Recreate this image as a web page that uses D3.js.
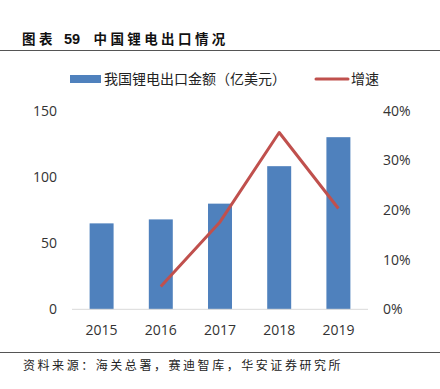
<!DOCTYPE html>
<html>
<head>
<meta charset="utf-8">
<script src="https://cdn.jsdelivr.net/npm/d3@7"></script>
<style>
    body { margin: 0; background: #fff; }
    svg text { font-family: "Open Sans", "Noto Sans CJK SC", sans-serif; }
    .cjk { font-family: "Noto Sans CJK SC", sans-serif !important; }
</style>
</head>
<body>
<div id="chart"></div>
<script>
// data
const years = ["2015", "2016", "2017", "2018", "2019"];
const exportValue = [64.9, 67.9, 79.8, 108.1, 130.0];
const growth = [null, 0.046, 0.176, 0.356, 0.203];
const leftTicks = [0, 50, 100, 150];
const rightTicks = [0, 0.1, 0.2, 0.3, 0.4];

const width = 440;
const height = 389;

const svg = d3.select("#chart")
    .append("svg")
    .attr("width", width)
    .attr("height", height);

// title + rules
const title = svg.append("text")
    .attr("class", "cjk")
    .attr("y", 43.5)
    .attr("font-size", 13.5)
    .attr("font-weight", "bold")
    .attr("fill", "#111");
title.append("tspan").attr("x", 22).attr("letter-spacing", 3.5).text("图表");
title.append("tspan").attr("x", 64).style("font-family", "'Liberation Sans', sans-serif")
    .attr("font-size", 14.5).text("59");
title.append("tspan").attr("x", 93.5).attr("letter-spacing", 3.4).text("中国锂电出口情况");

svg.append("line")
    .attr("x1", 0).attr("x2", width)
    .attr("y1", 50.5).attr("y2", 50.5)
    .attr("stroke", "#555").attr("stroke-width", 1);

svg.append("line")
    .attr("x1", 0).attr("x2", width)
    .attr("y1", 352.5).attr("y2", 352.5)
    .attr("stroke", "#555").attr("stroke-width", 1);

svg.append("text")
    .attr("class", "cjk")
    .attr("x", 23)
    .attr("y", 370)
    .attr("font-size", 12)
    .attr("letter-spacing", 2.55)
    .attr("fill", "#222")
    .text("资料来源：海关总署，赛迪智库，华安证券研究所");

// scales
const x = d3.scaleBand()
    .domain(years)
    .range([72, 368])
    .paddingInner(0.595)
    .paddingOuter(0.2975);

const y = d3.scaleLinear()
    .domain([0, 150])
    .range([309.3, 110.7]);

const y2 = d3.scaleLinear()
    .domain([0, 0.4])
    .range([309.3, 110.7]);

// bars
svg.selectAll("rect.bar")
    .data(exportValue)
    .enter()
    .append("rect")
    .attr("class", "bar")
    .attr("x", (d, i) => x(years[i]))
    .attr("y", d => y(d))
    .attr("width", x.bandwidth())
    .attr("height", d => y(0) - y(d))
    .attr("fill", "#4F81BD");

// baseline
svg.append("line")
    .attr("x1", 72).attr("x2", 368)
    .attr("y1", y(0)).attr("y2", y(0))
    .attr("stroke", "#D9D9D9").attr("stroke-width", 1);

// growth line
const line = d3.line()
    .defined(d => d.v != null)
    .x(d => x(d.year) + x.bandwidth() / 2)
    .y(d => y2(d.v));

svg.append("path")
    .datum(years.map((yr, i) => ({ year: yr, v: growth[i] })))
    .attr("d", line)
    .attr("fill", "none")
    .attr("stroke", "#C0504D")
    .attr("stroke-width", 3)
    .attr("stroke-linejoin", "round");

// axes (labels only)
const leftAxis = d3.axisLeft(y).tickValues(leftTicks).tickSize(0).tickPadding(0);
const gL = svg.append("g").attr("transform", "translate(57,0)").call(leftAxis);
gL.select(".domain").remove();

const rightAxis = d3.axisRight(y2).tickValues(rightTicks).tickSize(0).tickPadding(0)
    .tickFormat(d3.format(".0%"));
const gR = svg.append("g").attr("transform", "translate(383,0)").call(rightAxis);
gR.select(".domain").remove();

const bottomAxis = d3.axisBottom(x).tickSize(0).tickPadding(0);
const gB = svg.append("g").attr("transform", "translate(0," + (y(0) + 16) + ")").call(bottomAxis);
gB.select(".domain").remove();

svg.selectAll(".tick text")
    .attr("font-size", 14)
    .attr("fill", "#333")
    .style("font-family", "'Open Sans', sans-serif");

// legend
svg.append("rect")
    .attr("x", 70).attr("y", 75)
    .attr("width", 31).attr("height", 8)
    .attr("fill", "#4F81BD");

svg.append("text")
    .attr("class", "cjk")
    .attr("x", 104)
    .attr("y", 84)
    .attr("font-size", 14)
    .attr("fill", "#222")
    .text("我国锂电出口金额（亿美元）");

svg.append("line")
    .attr("x1", 316).attr("x2", 348)
    .attr("y1", 79).attr("y2", 79)
    .attr("stroke", "#C0504D").attr("stroke-width", 3)
    .attr("stroke-linecap", "round");

svg.append("text")
    .attr("class", "cjk")
    .attr("x", 351)
    .attr("y", 84)
    .attr("font-size", 14)
    .attr("fill", "#222")
    .text("增速");
</script>
</body>
</html>
